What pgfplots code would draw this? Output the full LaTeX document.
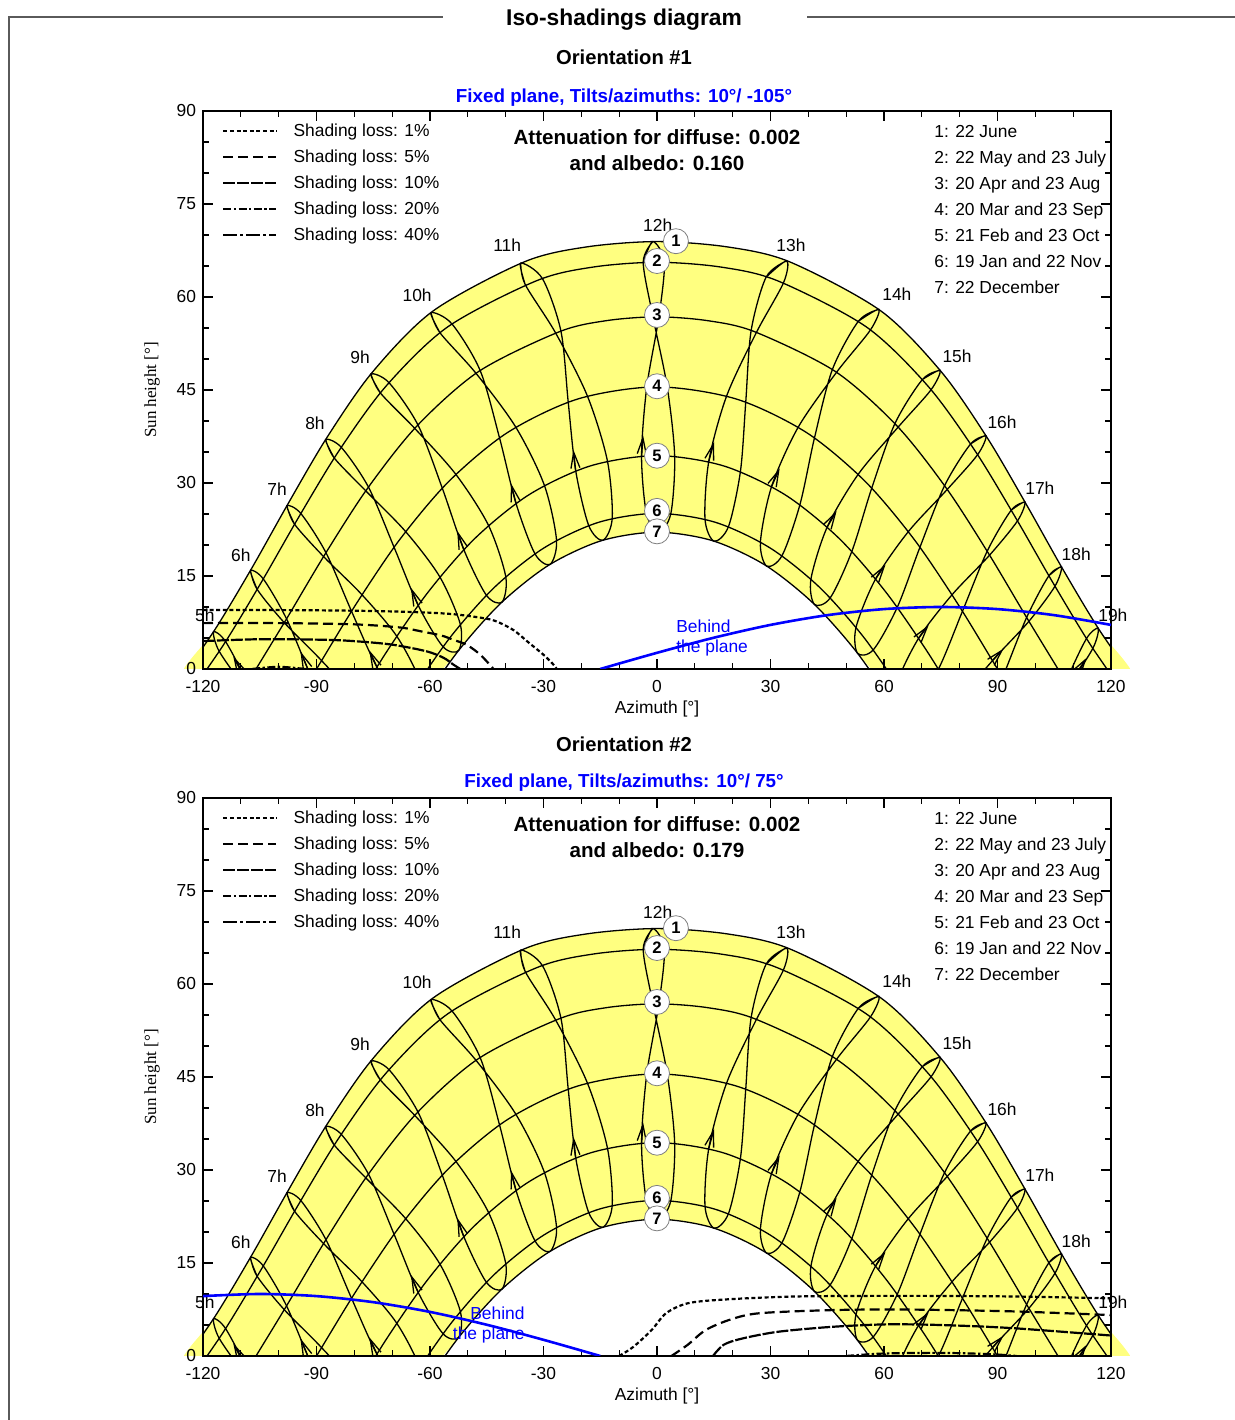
\documentclass[border=0pt]{standalone}
\usepackage{fontspec}
\setmainfont{Liberation Sans}
\newfontfamily\seriffont{Liberation Serif}
\usepackage{pgfplots}
\pgfplotsset{compat=1.18}
\usetikzlibrary{arrows.meta}

\definecolor{sunyellow}{RGB}{255,255,128}
\definecolor{framegray}{RGB}{90,90,90}
\newcommand{\txt}{\fontsize{8.7}{10}\selectfont}

% sun paths for the 7 dates (azimuth, height)
\pgfplotstableread{
A h
-127.3 -2.78
-116.93 6.28
-107.18 16.19
-97.54 26.63
-87.27 37.31
-75.23 47.87
-59.2 57.74
-35.15 65.65
-18.7 68.07
0 68.94
18.7 68.07
35.15 65.65
59.2 57.74
75.23 47.87
87.27 37.31
97.54 26.63
107.18 16.19
116.93 6.28
127.3 -2.78
}\dOne
\pgfplotstableread{
A h
-125.2 -5.4
-114.61 3.87
-104.63 13.94
-94.71 24.48
-84.1 35.16
-71.64 45.61
-55.32 55.18
-31.85 62.62
-16.75 64.84
0 65.6
16.75 64.84
31.85 62.62
55.32 55.18
71.64 45.61
84.1 35.16
94.71 24.48
104.63 13.94
114.61 3.87
125.2 -5.4
}\dTwo
\pgfplotstableread{
A h
-108.5 -2.5
-98.11 7.89
-87.7 18.56
-76.49 29.15
-63.46 39.19
-47.1 48.0
-25.84 54.39
-13.3 56.19
0 56.8
13.3 56.19
25.84 54.39
47.1 48.0
63.46 39.19
76.49 29.15
87.7 18.56
98.11 7.89
108.5 -2.5
}\dThree
\pgfplotstableread{
A h
-100.64 -10.64
-90 0
-79.36 10.64
-67.97 20.9
-54.97 30.29
-39.48 38.15
-20.93 43.55
0 45.5
20.93 43.55
39.48 38.15
54.97 30.29
67.97 20.9
79.36 10.64
90 0
100.64 -10.64
}\dFour
\pgfplotstableread{
A h
-82.04 -7.75
-71.6 2.65
-60.47 12.42
-48.05 21.11
-33.8 28.12
-17.59 32.76
0 34.41
17.59 32.76
33.8 28.12
48.05 21.11
60.47 12.42
71.6 2.65
82.04 -7.75
}\dFive
\pgfplotstableread{
A h
-65.18 -4.09
-54.59 5.16
-42.9 13.21
-29.81 19.55
-15.37 23.67
0 25.1
15.37 23.67
29.81 19.55
42.9 13.21
54.59 5.16
65.18 -4.09
}\dSix
\pgfplotstableread{
A h
-63.07 -6.28
-52.7 2.78
-41.3 10.6
-28.62 16.74
-14.7 20.69
0 22.07
14.7 20.69
28.62 16.74
41.3 10.6
52.7 2.78
63.07 -6.28
}\dSeven
% yellow zone: 22 June path, then 22 December path backwards
\pgfplotstableread{
A h
-130 -20
-127.3 -2.78
-116.93 6.28
-107.18 16.19
-97.54 26.63
-87.27 37.31
-75.23 47.87
-59.2 57.74
-35.15 65.65
-18.7 68.07
0 68.94
18.7 68.07
35.15 65.65
59.2 57.74
75.23 47.87
87.27 37.31
97.54 26.63
107.18 16.19
116.93 6.28
127.3 -2.78
130 -20
60 -20
63.07 -6.28
52.7 2.78
41.3 10.6
28.62 16.74
14.7 20.69
0 22.07
-14.7 20.69
-28.62 16.74
-41.3 10.6
-52.7 2.78
-63.07 -6.28
-60 -20
}\dZone

\pgfplotsset{
  diagram/.style={
    scale only axis, width=454pt, height=279pt,
    xmin=-120, xmax=120, ymin=0, ymax=90,
    xtick={-120,-90,...,120}, ytick={0,15,...,90},
    minor x tick num=2, minor y tick num=2,
    tick align=inside, major tick length=5pt, minor tick length=3pt,
    axis line style={line width=1.2pt},
    every tick/.append style={black, line width=0.65pt},
    clip mode=individual,
    /pgf/number format/assume math mode=true,
    tick label style={font=\txt},
    xticklabel style={yshift=-2pt},
    xlabel={Azimuth [°]}, ylabel={Sun height [°]},
    xlabel style={at={(axis description cs:0.5,-0.0717)}, anchor=center, font=\txt},
    ylabel style={at={(axis description cs:-0.0562,0.5)}, anchor=center,
      font=\seriffont\fontsize{8.5}{10}\selectfont},
    legend cell align=left,
    legend image code/.code={\draw[##1] (0pt,0pt) -- (26.5pt,0pt);},
    legend style={at={(axis description cs:0.0209,0.9875)}, anchor=north west,
      draw=none, fill=none, inner sep=0pt, row sep=0pt, column sep=8pt,
      font=\txt, nodes={inner sep=0pt, minimum height=13pt}},
  },
  backfill/.style={
    scale only axis, width=472.9167pt, height=279pt,
    xmin=-125, xmax=125, ymin=0, ymax=90, hide axis,
  },
  sunline/.style={black, line width=0.65pt, smooth, forget plot},
  hourarrow/.style={black, line width=0.65pt, forget plot,
    -{Straight Barb[length=8pt,width=4.5pt]}},
  loss1/.style={black, line width=1.1pt, dash pattern=on 2pt off 1.3pt},
  loss5/.style={black, line width=1.1pt, dash pattern=on 5pt off 2.5pt},
  loss10/.style={black, line width=1.1pt, dash pattern=on 6pt off 1pt},
  loss20/.style={black, line width=1.1pt, dash pattern=on 4pt off 1.2pt on 1.2pt off 1.2pt},
  loss40/.style={black, line width=1.1pt, dash pattern=on 7pt off 1.5pt on 1.5pt off 1.5pt},
  planeline/.style={blue, line width=1.3pt, smooth, forget plot},
}

\tikzset{
  hlab/.style={font=\txt},
  dlab/.style={circle, draw=gray, fill=white, inner sep=0pt, minimum size=12.5pt,
    font=\bfseries\fontsize{8.3}{9}\selectfont},
}

\newcommand{\sunpaths}{%
  \addplot[sunline] table {\dOne};
  \addplot[sunline] table {\dTwo};
  \addplot[sunline] table {\dThree};
  \addplot[sunline] table {\dFour};
  \addplot[sunline] table {\dFive};
  \addplot[sunline] table {\dSix};
  \addplot[sunline] table {\dSeven};
  % hour lines, legal time: Jun Jul Aug Sep Oct Nov Dec Jan Feb Mar Apr May Jun Jul
  \addplot[sunline] coordinates {(-1.10,68.94) (-3.64,65.6) (-1.07,56.8) (2.71,45.45) (4.67,34.3) (3.65,25.05) (0.40,22.07) (-2.77,25.05) (-4.08,34.3) (-2.71,45.45) (0.50,56.8) (1.93,65.6) (-1.10,68.94) (-3.64,65.6)};
  \addplot[sunline] coordinates {(34.29,65.83) (28.86,63.22) (24.88,54.58) (23.46,43.07) (22.06,31.91) (18.91,23.0) (15.08,20.62) (12.69,24.18) (13.69,33.50) (18.40,44.03) (26.29,54.30) (33.44,62.30) (34.29,65.83) (28.86,63.22)};
  \addplot[sunline] coordinates {(-36.01,65.47) (-34.84,62.02) (-26.80,54.20) (-18.40,44.03) (-13.12,33.60) (-11.83,24.34) (-14.32,20.76) (-18.06,23.16) (-21.50,32.02) (-23.47,43.07) (-25.39,54.48) (-30.26,62.94) (-36.01,65.47) (-34.84,62.02)};
  \addplot[sunline] coordinates {(58.65,58.0) (53.27,56.12) (46.36,48.31) (41.63,37.29) (37.80,26.56) (33.06,18.30) (28.98,16.60) (27.34,20.50) (30.31,29.48) (37.33,39.01) (47.45,47.85) (56.41,54.68) (58.65,58.0) (53.27,56.12)};
  \addplot[sunline] coordinates {(-59.75,57.48) (-57.37,54.24) (-47.84,47.69) (-37.33,39.01) (-29.80,29.68) (-26.56,20.80) (-28.26,16.88) (-32.28,18.60) (-37.29,26.76) (-41.63,37.29) (-46.75,48.15) (-54.23,55.68) (-59.75,57.48) (-57.37,54.24)};
  \addplot[sunline] coordinates {(74.84,48.17) (70.15,46.69) (62.88,39.57) (56.76,29.18) (51.53,19.02) (45.81,11.49) (41.62,10.41) (40.69,14.51) (45.01,22.93) (53.18,31.40) (63.73,39.01) (72.43,45.03) (74.84,48.17) (70.15,46.69)};
  \addplot[sunline] coordinates {(-75.62,47.57) (-73.13,44.53) (-64.04,38.81) (-53.18,31.40) (-44.57,23.20) (-39.99,14.93) (-40.98,10.79) (-45.11,11.91) (-51.09,19.29) (-56.76,29.18) (-63.19,39.37) (-70.85,46.19) (-75.62,47.57) (-73.13,44.53)};
  \addplot[sunline] coordinates {(86.96,37.62) (82.90,36.30) (76.01,29.57) (69.50,19.64) (63.53,9.98) (57.20,3.11) (52.99,2.55) (52.61,6.72) (57.80,14.55) (66.44,22.16) (76.71,28.96) (84.74,34.56) (86.96,37.62) (82.90,36.30)};
  \addplot[sunline] coordinates {(-87.58,37.0) (-85.30,34.02) (-76.97,28.73) (-66.44,22.16) (-57.41,14.86) (-51.99,7.21) (-52.41,3.01) (-56.57,3.60) (-63.14,10.29) (-69.50,19.64) (-76.27,29.34) (-83.46,35.76) (-87.58,37.0) (-85.30,34.02)};
  \addplot[sunline] coordinates {(97.26,26.93) (93.63,25.62) (87.27,18.99) (80.74,9.31) (74.39,-0.01) (67.58,-6.38) (63.34,-6.53) (63.36,-2.35) (69.16,4.97) (77.98,11.97) (87.90,18.36) (95.28,23.88) (97.26,26.93) (93.63,25.62)};
  \addplot[sunline] coordinates {(-97.82,26.33) (-95.79,23.34) (-88.13,18.13) (-77.98,11.97) (-68.81,5.31) (-62.78,-1.80) (-62.80,-6.03) (-67.0,-5.83) (-74.04,0.33) (-80.74,9.31) (-87.50,18.76) (-94.14,25.08) (-97.82,26.33) (-95.79,23.34)};
  \addplot[sunline] coordinates {(106.90,16.48) (103.58,15.04) (97.70,8.31) (91.33,-1.36) (84.75,-10.46) (77.47,-16.51) (73.1,-16.4) (73.37,-12.34) (79.67,-5.38) (88.67,1.35) (98.30,7.69) (105.19,13.35) (106.90,16.48) (103.58,15.04)};
  \addplot[sunline] coordinates {(-107.46,15.90) (-105.68,12.84) (-98.52,7.47) (-88.67,1.36) (-79.33,-5.04) (-72.81,-11.85) (-72.55,-15.94) (-76.91,-15.94) (-84.41,-10.12) (-91.33,-1.36) (-97.92,8.09) (-104.07,14.53) (-107.46,15.90) (-105.68,12.84)};
  \addplot[sunline] coordinates {(99.35,-9.31) (108.69,-2.7) (115.19,3.32) (116.64,6.55) (113.52,4.91) (108.09,-2.08) (101.93,-11.97)};
  \addplot[sunline] coordinates {(-101.93,-11.97) (-108.31,-2.3) (-114.03,4.42) (-117.22,6.01) (-115.70,2.83) (-108.91,-2.92) (-99.35,-9.31)};
  % direction arrows (first half of the year)
  \addplot[hourarrow] coordinates {(-110.27,0) (-111.99,2.02)};
  \addplot[hourarrow] coordinates {(-92.28,0) (-94.26,2.84)};
  \addplot[hourarrow] coordinates {(-74.04,0.33) (-76.05,3.02)};
  \addplot[hourarrow] coordinates {(-63.14,10.29) (-65.05,13.10)};
  \addplot[hourarrow] coordinates {(-51.09,19.29) (-52.79,22.26)};
  \addplot[hourarrow] coordinates {(-37.29,26.76) (-38.59,29.92)};
  \addplot[hourarrow] coordinates {(-21.50,32.02) (-22.09,35.34)};
  \addplot[hourarrow] coordinates {(-4.08,34.3) (-3.67,37.65)};
  \addplot[hourarrow] coordinates {(13.69,33.50) (15.10,36.66)};
  \addplot[hourarrow] coordinates {(30.31,29.48) (32.42,32.34)};
  \addplot[hourarrow] coordinates {(45.01,22.93) (47.46,25.47)};
  \addplot[hourarrow] coordinates {(57.80,14.55) (60.39,16.83)};
  \addplot[hourarrow] coordinates {(69.16,4.97) (71.81,7.07)};
  \addplot[hourarrow] coordinates {(88.67,1.35) (91.56,3.25)};
  \addplot[hourarrow] coordinates {(111.6,0) (113.55,1.8)};
  % hour labels
  \node[hlab] at (axis cs:-119.5,8.7) {5h};
  \node[hlab] at (axis cs:-110,18.4) {6h};
  \node[hlab] at (axis cs:-100.4,29.0) {7h};
  \node[hlab] at (axis cs:-90.4,39.7) {8h};
  \node[hlab] at (axis cs:-78.5,50.3) {9h};
  \node[hlab] at (axis cs:-63.4,60.3) {10h};
  \node[hlab] at (axis cs:-39.6,68.4) {11h};
  \node[hlab] at (axis cs:0.2,71.6) {12h};
  \node[hlab] at (axis cs:35.4,68.4) {13h};
  \node[hlab] at (axis cs:63.4,60.5) {14h};
  \node[hlab] at (axis cs:79.3,50.5) {15h};
  \node[hlab] at (axis cs:91.2,39.8) {16h};
  \node[hlab] at (axis cs:101.2,29.2) {17h};
  \node[hlab] at (axis cs:110.8,18.5) {18h};
  \node[hlab] at (axis cs:120.5,8.7) {19h};
  % date numbers
  \node[dlab] at (axis cs:5.0,69.0) {1};
  \node[dlab] at (axis cs:0,65.8) {2};
  \node[dlab] at (axis cs:0,57.1) {3};
  \node[dlab] at (axis cs:0,45.6) {4};
  \node[dlab] at (axis cs:0,34.4) {5};
  \node[dlab] at (axis cs:0,25.5) {6};
  \node[dlab] at (axis cs:0,22.2) {7};
  \node[anchor=north west, align=left, inner sep=0pt, font=\fontsize{8.7}{13}\selectfont]
    at (axis description cs:0.805,0.9754)
    {1: 22 June\\2: 22 May and 23 July\\3: 20 Apr and 23 Aug\\4: 20 Mar and 23 Sep\\5: 21 Feb and 23 Oct\\6: 19 Jan and 22 Nov\\7: 22 December};
  \addlegendimage{loss1}\addlegendentry{Shading loss: 1\%}
  \addlegendimage{loss5}\addlegendentry{Shading loss: 5\%}
  \addlegendimage{loss10}\addlegendentry{Shading loss: 10\%}
  \addlegendimage{loss20}\addlegendentry{Shading loss: 20\%}
  \addlegendimage{loss40}\addlegendentry{Shading loss: 40\%}
}

\begin{document}
\begin{tikzpicture}
\path[use as bounding box] (0pt,0pt) rectangle (617.5pt,710pt);
\draw[framegray, line width=0.9pt] (4.5pt,0pt) -- (4.5pt,701.5pt) -- (221.5pt,701.5pt);
\draw[framegray, line width=0.9pt] (403.5pt,701.5pt) -- (617.5pt,701.5pt);
\node[font=\bfseries\fontsize{11.4}{13}\selectfont] at (312pt,700pt) {Iso-shadings diagram};

% ---- orientation 1
\node[font=\bfseries\fontsize{10.1}{12}\selectfont] at (312pt,681.5pt) {Orientation \#1};
\node[font=\bfseries\fontsize{9.4}{11}\selectfont, text=blue] at (312pt,661pt) {Fixed plane, Tilts/azimuths: 10°/ -105°};
\begin{axis}[backfill, at={(92.0417pt,375.5pt)}, anchor=south west]
\addplot[fill=sunyellow, draw=none, smooth] table {\dZone};
\end{axis}
\begin{axis}[diagram, at={(101.5pt,375.5pt)}, anchor=south west]
\sunpaths
\addplot[loss1, smooth, forget plot] coordinates {(-120,9.5) (-100,9.5) (-80,9.4) (-65,9.2) (-55,8.9) (-48,8.4) (-43,7.8) (-38,6.3) (-34,4.3) (-30,2.3) (-27.5,0.8) (-26.5,0)};
\addplot[loss5, smooth, forget plot] coordinates {(-120,7.4) (-100,7.4) (-80,7.2) (-68,6.7) (-62.6,6.1) (-57,5.4) (-53.8,4.7) (-50.3,3.9) (-46.7,2.3) (-43.2,0)};
\addplot[loss10, smooth, forget plot] coordinates {(-120,4.5) (-105,4.8) (-87,4.7) (-78,4.4) (-69.7,3.9) (-60.9,2.85) (-56.4,1.8) (-53.8,0.7) (-52,0)};
\addplot[loss20, smooth, forget plot] coordinates {(-107,0) (-100,0.35) (-93,0)};
\addplot[planeline] coordinates {(-15,0) (0,2.61) (15,5.04) (30,7.11) (45,8.68) (60,9.66) (75,10) (90,9.66) (105,8.68) (120,7.11)};
\node[anchor=west, align=left, inner sep=0pt, text=blue, font=\fontsize{8.7}{10}\selectfont] at (axis cs:5,5) {Behind\\the plane};
\node[align=center, font=\bfseries\fontsize{10.3}{13}\selectfont] at (axis description cs:0.5,0.930) {Attenuation for diffuse: 0.002\\and albedo: 0.160};
\end{axis}

% ---- orientation 2
\node[font=\bfseries\fontsize{10.1}{12}\selectfont] at (312pt,338pt) {Orientation \#2};
\node[font=\bfseries\fontsize{9.4}{11}\selectfont, text=blue] at (312pt,318.5pt) {Fixed plane, Tilts/azimuths: 10°/ 75°};
\begin{axis}[backfill, at={(92.0417pt,32pt)}, anchor=south west]
\addplot[fill=sunyellow, draw=none, smooth] table {\dZone};
\end{axis}
\begin{axis}[diagram, at={(101.5pt,32pt)}, anchor=south west]
\sunpaths
\addplot[loss1, smooth, forget plot] coordinates {(-10,0) (-6.2,1.5) (-1.4,4.2) (2.4,6.9) (8.1,8.5) (17.6,9.1) (36.7,9.6) (65.2,9.7) (93.8,9.6) (120,9.3)};
\addplot[loss5, smooth, forget plot] coordinates {(3.8,0) (8.1,1.8) (12.9,4.2) (19.5,5.9) (27.1,6.9) (46.2,7.4) (65.2,7.5) (93.8,7.2) (120,6.6)};
\addplot[loss10, smooth, forget plot] coordinates {(14.8,0) (17.6,1.8) (22.4,2.8) (31.9,3.9) (46.2,4.7) (60.5,5.1) (74.8,5.0) (93.8,4.5) (120,3.3)};
\addplot[loss20, smooth, forget plot] coordinates {(50,0) (60,0.4) (75,0.5) (88,0.3) (95,0)};
\addplot[planeline] coordinates {(-120,9.66) (-105,10) (-90,9.66) (-75,8.68) (-60,7.11) (-45,5.04) (-30,2.61) (-15,0)};
\node[anchor=east, align=right, inner sep=0pt, text=blue, font=\fontsize{8.7}{10}\selectfont] at (axis cs:-34.9,5) {Behind\\the plane};
\node[align=center, font=\bfseries\fontsize{10.3}{13}\selectfont] at (axis description cs:0.5,0.930) {Attenuation for diffuse: 0.002\\and albedo: 0.179};
\end{axis}
\end{tikzpicture}
\end{document}
